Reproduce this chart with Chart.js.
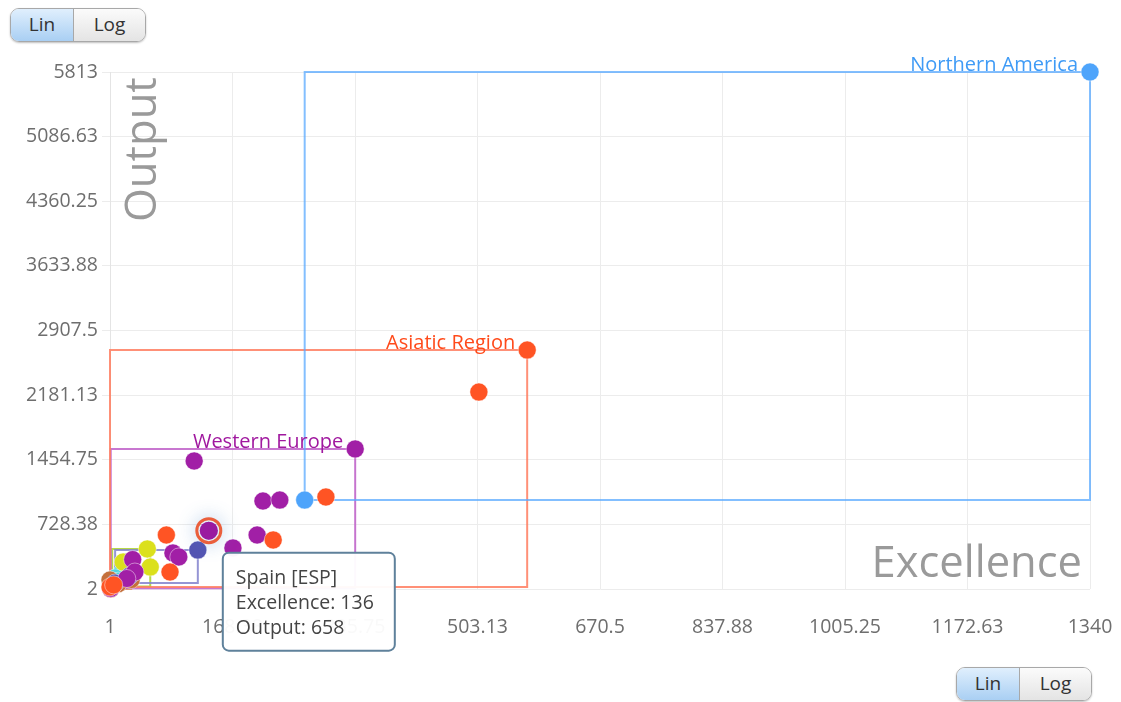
<!DOCTYPE html>
<html>
<head>
<meta charset="utf-8">
<script src="https://cdn.jsdelivr.net/npm/chart.js@4.4.1/dist/chart.umd.min.js"></script>
<style>
  html, body { margin: 0; padding: 0; background: #fff; }
  #wrap { position: relative; width: 1121px; height: 702px; }
  .toggle {
    position: absolute; display: flex; height: 32px;
    border: 1px solid #a8a8a8; border-radius: 9px; overflow: hidden;
    box-shadow: 0 1px 2px rgba(0,0,0,0.25);
    font-family: "Open Sans", sans-serif; font-size: 19px; color: #333;
  }
  .toggle span { text-align: center; line-height: 31px; }
  .toggle .on { width: 62px; background: linear-gradient(#e0effd, #a9cff3); border-right: 1px solid #a8a8a8; }
  .toggle .off { width: 71px; background: linear-gradient(#fbfbfb, #e4e4e4); }
</style>
</head>
<body>
<div id="wrap">
  <canvas id="chart" width="1121" height="702"></canvas>
  <div class="toggle" style="left:10px; top:8px;"><span class="on">Lin</span><span class="off">Log</span></div>
  <div class="toggle" style="left:956px; top:667px;"><span class="on">Lin</span><span class="off">Log</span></div>
</div>
<script>
// tick labels
const excellenceTicks = [1, 168.38, 335.75, 503.13, 670.5, 837.88, 1005.25, 1172.63, 1340];
const outputTicks = [2, 728.38, 1454.75, 2181.13, 2907.5, 3633.88, 4360.25, 5086.63, 5813];

// [excellence, output] per country, grouped by region
const northernAmerica = [[1340, 5813], [267, 1002]];
const asiaticRegion = [[571, 2688], [505, 2216], [296, 1036], [224, 553], [78, 609], [83, 193], [1, 25], [6, 48]];
const westernEurope = [[336, 1576], [116, 1441], [210, 991], [233, 1002], [136, 658], [202, 609], [169, 463],
                       [87, 407], [95, 362], [32, 333], [35, 193], [24, 120], [2, 10]];
const easternEurope = [[121, 440], [8, 69], [28, 150]];
const latinAmerica = [[52, 452], [56, 249], [19, 305], [4, 30]];
const africa = [[30, 108], [1, 103], [12, 60], [2, 4]];
const middleEast = [[17, 182], [8, 126], [12, 90]];

const regionNames = ["Northern America", "Asiatic Region", "Western Europe", "Eastern Europe", "Latin America", "Africa", "Middle East"];
const regionPoints = [northernAmerica, asiaticRegion, westernEurope, easternEurope, latinAmerica, africa, middleEast];
const regionColors = ["#4ea4fb", "#ff5424", "#a11fa6", "#5454b2", "#dbe01c", "#c4703c", "#4fd4df"];
const boxColors = ["rgba(90,170,255,0.75)", "rgba(255,125,95,0.85)", "rgba(190,95,200,0.85)",
                   "rgba(130,130,205,0.85)", "rgba(170,210,40,0.85)", "rgba(235,135,35,0.9)", "rgba(80,210,220,0.8)"];
const labelColors = ["#3f9bf6", "#ff4a1a", "#a0189f"];
const labeledRegions = ["Northern America", "Asiatic Region", "Western Europe"];

const selectedName = "Spain [ESP]";
const selectedPoint = [136, 658];

function bounds(pts) {
  const xs = pts.map(p => p[0]), ys = pts.map(p => p[1]);
  return { minX: Math.min(...xs), maxX: Math.max(...xs), minY: Math.min(...ys), maxY: Math.max(...ys) };
}

const datasets = [];
regionPoints.forEach((pts, i) => {
  const b = bounds(pts);
  datasets.push({
    type: "line",
    data: [{x: b.minX, y: b.minY}, {x: b.maxX, y: b.minY}, {x: b.maxX, y: b.maxY}, {x: b.minX, y: b.maxY}, {x: b.minX, y: b.minY}],
    borderColor: boxColors[i],
    borderWidth: 2,
    pointRadius: 0,
    fill: false,
    tension: 0,
    clip: false,
    order: 10
  });
});
regionPoints.forEach((pts, i) => {
  datasets.push({
    label: regionNames[i],
    data: pts.map(p => ({x: p[0], y: p[1]})),
    backgroundColor: regionColors[i],
    borderColor: "rgba(255,255,255,0.45)",
    borderWidth: 1,
    pointRadius: 9,
    clip: false,
    order: 1
  });
});

const FONT = '"Open Sans", sans-serif';

const decorations = {
  id: "decorations",
  beforeDatasetsDraw(chart) {
    const ctx = chart.ctx;
    ctx.save();
    ctx.fillStyle = "#9a9a9a";
    ctx.font = "43.5px " + FONT;
    ctx.textAlign = "right";
    ctx.textBaseline = "alphabetic";
    ctx.fillText("Excellence", 1082, 577);
    ctx.translate(156, 222);
    ctx.rotate(-Math.PI / 2);
    ctx.textAlign = "left";
    ctx.fillText("Output", 0, 0);
    ctx.restore();
  },
  afterDatasetsDraw(chart) {
    const ctx = chart.ctx, x = chart.scales.x, y = chart.scales.y;
    ctx.save();
    ctx.font = "20px " + FONT;
    ctx.textAlign = "right";
    ctx.textBaseline = "alphabetic";
    labeledRegions.forEach((name, k) => {
      const b = bounds(regionPoints[regionNames.indexOf(name)]);
      ctx.fillStyle = labelColors[k];
      ctx.fillText(name, x.getPixelForValue(b.maxX) - 12, y.getPixelForValue(b.maxY) - 1);
    });

    // selected point highlight
    const px = x.getPixelForValue(selectedPoint[0]), py = y.getPixelForValue(selectedPoint[1]);
    ctx.shadowColor = "rgba(70,130,200,0.8)";
    ctx.shadowBlur = 16;
    ctx.strokeStyle = "rgba(235,80,40,0.9)";
    ctx.lineWidth = 3;
    ctx.beginPath(); ctx.arc(px, py, 12, 0, Math.PI * 2); ctx.stroke();
    ctx.shadowBlur = 0;
    ctx.fillStyle = "#9a1aa0";
    ctx.beginPath(); ctx.arc(px, py, 9, 0, Math.PI * 2); ctx.fill();

    // tooltip
    const bx = px + 14, by = py + 22, bw = 172, bh = 98;
    ctx.fillStyle = "rgba(255,255,255,0.96)";
    ctx.strokeStyle = "#5f819b";
    ctx.lineWidth = 2;
    ctx.beginPath();
    ctx.roundRect(bx, by, bw, bh, 6);
    ctx.fill(); ctx.stroke();
    ctx.fillStyle = "#444";
    ctx.textAlign = "left";
    ctx.font = "19.5px " + FONT;
    ctx.fillText(selectedName, bx + 13, by + 31);
    ctx.fillText("Excellence: " + selectedPoint[0], bx + 13, by + 56);
    ctx.fillText("Output: " + selectedPoint[1], bx + 13, by + 81);
    ctx.restore();
  }
};

const ctx = document.getElementById("chart").getContext("2d");
new Chart(ctx, {
  type: "scatter",
  data: { datasets: datasets },
  options: {
    responsive: false,
    animation: false,
    events: [],
    layout: { padding: { top: 72, right: 31, left: 0, bottom: 0 } },
    plugins: { legend: { display: false }, tooltip: { enabled: false } },
    scales: {
      x: {
        type: "linear",
        min: excellenceTicks[0],
        max: excellenceTicks[excellenceTicks.length - 1],
        afterBuildTicks: s => { s.ticks = excellenceTicks.map(v => ({value: v})); },
        afterFit: s => { s.height = 113; s.paddingLeft = 0; s.paddingRight = 0; },
        ticks: {
          autoSkip: false, maxRotation: 0, padding: 27,
          color: "#6e6e6e", font: { family: FONT, size: 19.5 },
          callback: (v, i) => String(excellenceTicks[i])
        },
        grid: { color: "#ececec", drawTicks: false },
        border: { display: false }
      },
      y: {
        type: "linear",
        min: outputTicks[0],
        max: outputTicks[outputTicks.length - 1],
        afterBuildTicks: s => { s.ticks = outputTicks.map(v => ({value: v})); },
        afterFit: s => { s.width = 110; s.paddingTop = 0; s.paddingBottom = 0; },
        ticks: {
          autoSkip: false, padding: 4,
          color: "#6e6e6e", font: { family: FONT, size: 19.5 },
          callback: (v, i) => String(outputTicks[i])
        },
        grid: { color: "#ececec", tickLength: 8 },
        border: { color: "#e4e4e4" }
      }
    }
  },
  plugins: [decorations]
});
</script>
</body>
</html>
